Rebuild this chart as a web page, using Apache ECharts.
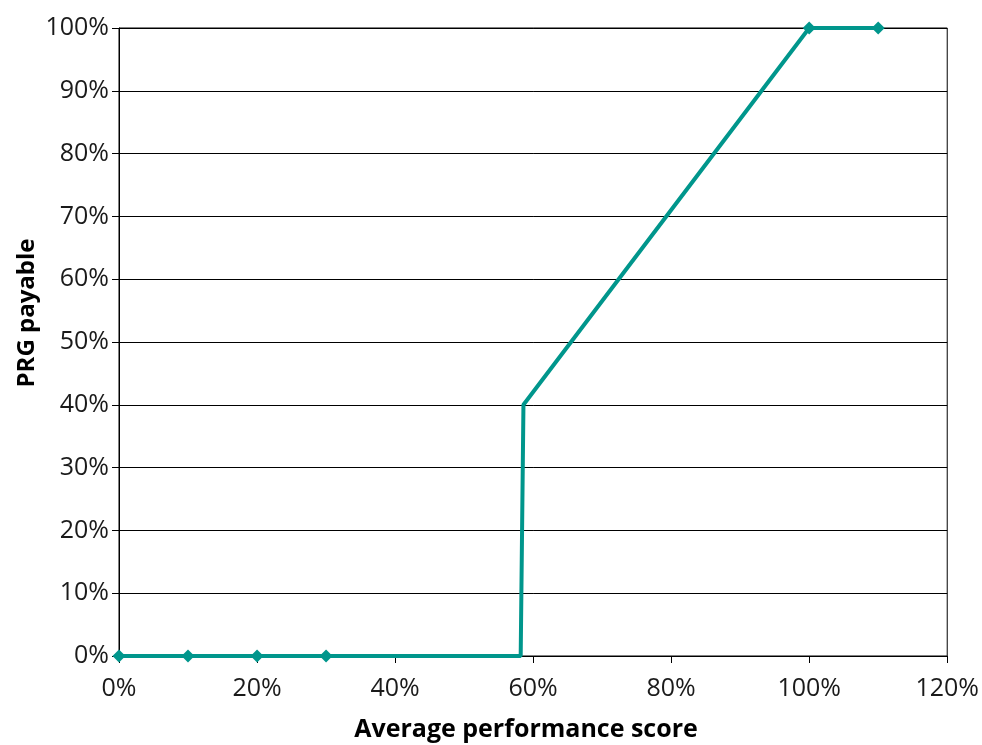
<!DOCTYPE html>
<html>
<head>
<meta charset="utf-8">
<script src="https://cdn.jsdelivr.net/npm/echarts@6/dist/echarts.min.js"></script>
<style>html,body{margin:0;padding:0;background:#fff}#c{width:982px;height:745px}</style>
</head>
<body>
<div id="c"></div>
<script>
var xValues = [0, 10, 20, 30, 58.2, 58.6, 100, 110];
var yValues = [0, 0, 0, 0, 0, 40, 100, 100];
var markerShown = [true, true, true, true, false, false, true, true];
var xTitle = 'Average performance score';
var yTitle = 'PRG payable';

var data = xValues.map(function (x, i) {
  var p = { value: [x, yValues[i]] };
  if (!markerShown[i]) p.symbol = 'none';
  return p;
});

var font = '"Open Sans", "Noto Sans", sans-serif';
var chart = echarts.init(document.getElementById('c'), null, { renderer: 'canvas' });
chart.setOption({
  animation: false,
  grid: { left: 119, right: 34, top: 28, bottom: 89, show: true, borderColor: '#000', borderWidth: 1 },
  graphic: [
    { type: 'text', x: 526, y: 730, style: { text: xTitle, font: 'bold 25px ' + font, fill: '#000', align: 'center', verticalAlign: 'middle' } },
    { type: 'text', x: 27, y: 313, rotation: Math.PI / 2, style: { text: yTitle, font: 'bold 24px ' + font, fill: '#000', align: 'center', verticalAlign: 'middle' } }
  ],
  xAxis: {
    type: 'value', min: 0, max: 120, interval: 20,
    axisLine: { show: true, lineStyle: { color: '#000', width: 1 } },
    axisTick: { show: true, length: 7, lineStyle: { color: '#000' } },
    axisLabel: { formatter: '{value}%', fontFamily: font, fontSize: 25, color: '#1a1a1a', margin: 20 },
    splitLine: { show: false }
  },
  yAxis: {
    type: 'value', min: 0, max: 100, interval: 10,
    axisLine: { show: true, lineStyle: { color: '#000', width: 1 } },
    axisTick: { show: true, length: 7, lineStyle: { color: '#000' } },
    axisLabel: { formatter: '{value}%', fontFamily: font, fontSize: 25, color: '#1a1a1a', margin: 10 },
    splitLine: { show: true, lineStyle: { color: '#000', width: 1 } }
  },
  series: [{
    type: 'line',
    data: data,
    symbol: 'diamond',
    symbolSize: 13,
    showAllSymbol: true,
    lineStyle: { color: '#00968C', width: 4 },
    itemStyle: { color: '#00968C' }
  }]
});
</script>
</body>
</html>
